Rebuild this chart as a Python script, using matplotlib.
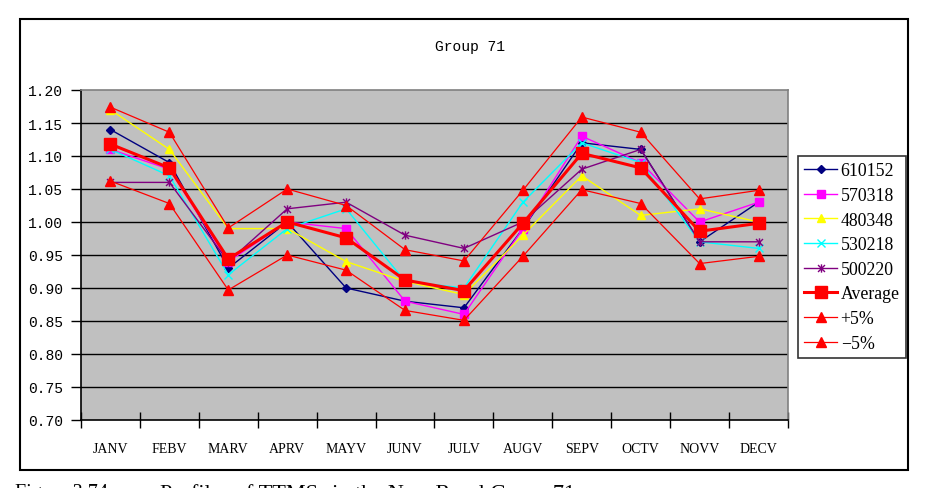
import matplotlib
matplotlib.use("Agg")
import matplotlib.pyplot as plt
from matplotlib.path import Path
from matplotlib.patches import Rectangle
import numpy as np

months = ["JANV", "FEBV", "MARV", "APRV", "MAYV", "JUNV",
          "JULV", "AUGV", "SEPV", "OCTV", "NOVV", "DECV"]
s610152 = [1.14, 1.09, 0.93, 1.00, 0.90, 0.88, 0.87, 0.99, 1.12, 1.11, 0.97, 1.03]
s570318 = [1.11, 1.08, 0.94, 1.00, 0.99, 0.88, 0.86, 0.99, 1.13, 1.09, 1.00, 1.03]
s480348 = [1.17, 1.11, 0.99, 0.99, 0.94, 0.91, 0.89, 0.98, 1.07, 1.01, 1.02, 1.00]
s530218 = [1.11, 1.07, 0.92, 0.99, 1.02, 0.91, 0.90, 1.03, 1.12, 1.09, 0.97, 0.96]
s500220 = [1.06, 1.06, 0.94, 1.02, 1.03, 0.98, 0.96, 1.00, 1.08, 1.11, 0.97, 0.97]
average = [1.118, 1.082, 0.944, 1.000, 0.976, 0.912, 0.896, 0.998, 1.104, 1.082, 0.986, 0.998]
plus5 = [1.174, 1.136, 0.991, 1.050, 1.025, 0.958, 0.941, 1.048, 1.159, 1.136, 1.035, 1.048]
minus5 = [1.062, 1.028, 0.897, 0.950, 0.927, 0.866, 0.851, 0.948, 1.049, 1.028, 0.937, 0.948]
yticks = [0.70, 0.75, 0.80, 0.85, 0.90, 0.95, 1.00, 1.05, 1.10, 1.15, 1.20]

W, H = 926, 489
fig = plt.figure(figsize=(W / 100, H / 100), dpi=100)
fig.patch.set_facecolor("white")

# outer chart frame
fig.add_artist(Rectangle((20 / W, 1 - 471 / H), 888 / W, 451 / H,
                         transform=fig.transFigure, fill=False,
                         edgecolor="black", linewidth=1.5))

ax = fig.add_axes([81 / W, 1 - 421 / H, 707 / W, 330 / H])
ax.set_facecolor("#C0C0C0")

star = Path([(-1, -1), (1, 1), (-1, 1), (1, -1), (0, -1.2), (0, 1.2)],
            [Path.MOVETO, Path.LINETO, Path.MOVETO, Path.LINETO,
             Path.MOVETO, Path.LINETO])

x = np.arange(len(months))
series = [
    ("610152", s610152, dict(color="#000080", marker="D", ms=4.5, lw=1.0)),
    ("570318", s570318, dict(color="#FF00FF", marker="s", ms=5.5, lw=1.0)),
    ("480348", s480348, dict(color="#FFFF00", marker="^", ms=6, lw=1.0)),
    ("530218", s530218, dict(color="#00FFFF", marker="x", ms=6, mew=1.0, lw=1.0)),
    ("500220", s500220, dict(color="#800080", marker=star, ms=6, mew=1.0, lw=1.0)),
    ("Average", average, dict(color="#FF0000", marker="s", ms=9, lw=2.2)),
    ("+5%", plus5, dict(color="#FF0000", marker="^", ms=6.5, lw=0.9)),
    ("\u22125%", minus5, dict(color="#FF0000", marker="^", ms=6.5, lw=0.9)),
]
for label, vals, kw in series:
    ax.plot(x, vals, label=label, **kw)

ax.set_xlim(-0.5, len(months) - 0.5)
ax.set_ylim(0.70, 1.20)

for yv in yticks[1:-1]:
    ax.axhline(yv, color="black", lw=1.0, zorder=0.5)

ax.set_yticks(yticks)
ax.set_yticklabels([f"{v:.2f}" for v in yticks], family="Liberation Mono", fontsize=10.5)
ax.tick_params(axis="y", direction="out", length=7, width=1, pad=6)

ax.set_xticks(x)
ax.set_xticklabels(months, family="Liberation Serif", fontsize=10)
ax.tick_params(axis="x", which="major", length=0, pad=16)
ax.set_xticks(np.arange(-0.5, len(months)), minor=True)
ax.tick_params(axis="x", which="minor", direction="inout", length=11, width=1)

for s in ["left", "bottom"]:
    ax.spines[s].set_color("black")
    ax.spines[s].set_linewidth(1.2)
for s in ["top", "right"]:
    ax.spines[s].set_color("#808080")
    ax.spines[s].set_linewidth(1.2)

leg = fig.legend(loc="upper left", bbox_to_anchor=(798 / W, 1 - 157 / H),
                 prop={"family": "Liberation Serif", "size": 12.8},
                 frameon=True, fancybox=False, edgecolor="black",
                 borderpad=0.35, handlelength=1.85, handletextpad=0.2,
                 labelspacing=0.43, borderaxespad=0)
leg.get_frame().set_linewidth(1.2)

fig.text(470 / W, 1 - 47 / H, "Group 71", family="Liberation Mono",
         fontsize=10.5, ha="center", va="center")

# figure caption below the chart (cut off by the image edge, as in the source)
fig.text(15 / W, 1 - 498 / H, "Figure 3.74",
         family="Liberation Serif", fontsize=14.5, ha="left", va="baseline")
fig.text(160 / W, 1 - 499 / H, "Profiles of TTMSs in the New Rural Group 71",
         family="Liberation Serif", fontsize=16, ha="left", va="baseline")

fig.savefig("out.png", dpi=100)
